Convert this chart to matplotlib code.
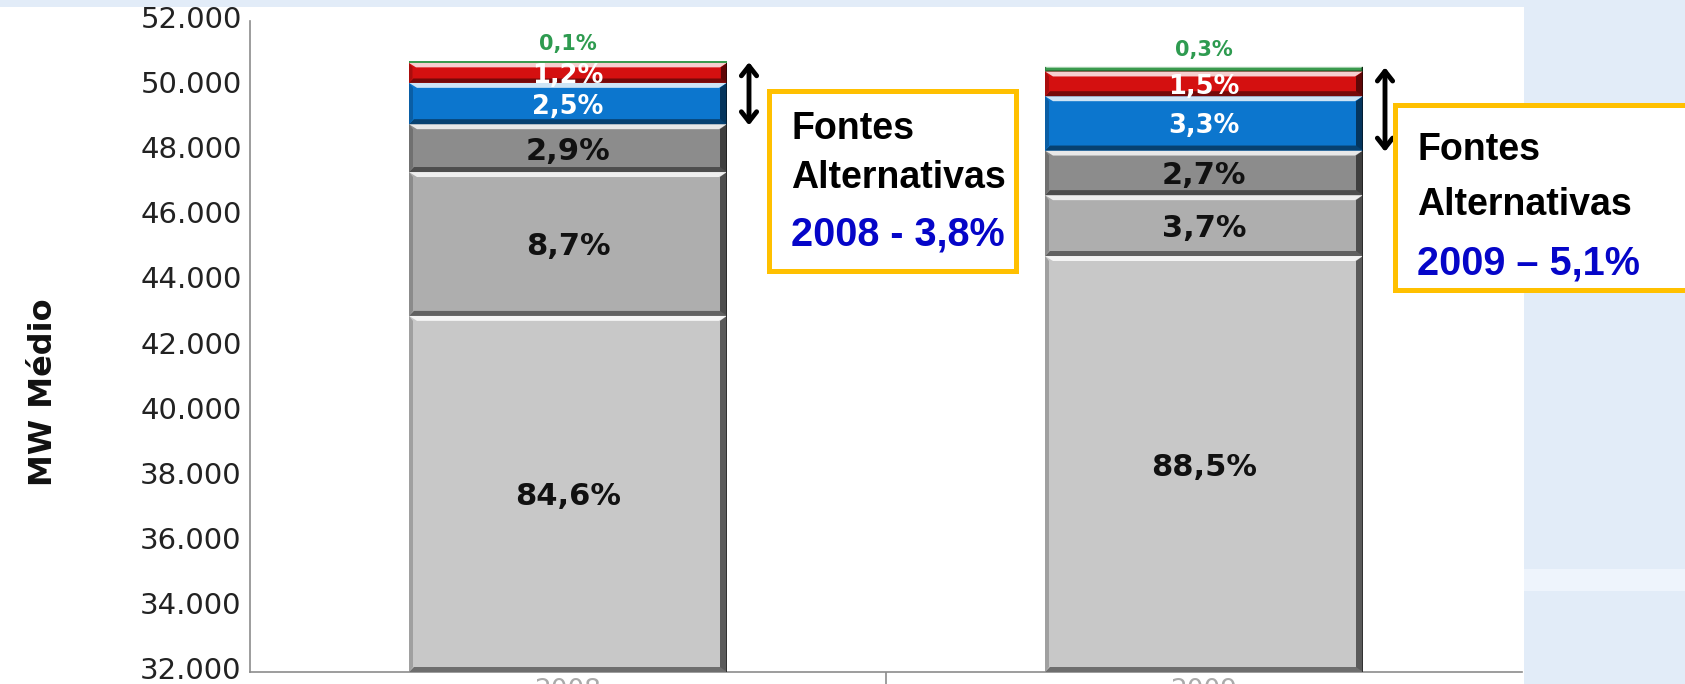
import matplotlib
matplotlib.use('Agg')
import matplotlib.pyplot as plt
import matplotlib.patches as mpatches
from matplotlib.colors import to_rgb
from matplotlib.ticker import FuncFormatter
from matplotlib.transforms import ScaledTranslation
import numpy as np

W, H = 1685, 684

# data (MW médio, bottom segment first)
years = ['2008', '2009']
mw_2008 = [42940, 4420, 1470, 1270, 610, 50]
mw_2009 = [44780, 1870, 1370, 1670, 760, 150]
pct_2008 = ['84,6%', '8,7%', '2,9%', '2,5%', '1,2%', '0,1%']
pct_2009 = ['88,5%', '3,7%', '2,7%', '3,3%', '1,5%', '0,3%']
alt_labels = ['2008 - 3,8%', '2009 \u2013 5,1%']

seg_colors = ['#C8C8C8', '#AEAEAE', '#8C8C8C', '#0C76CE', '#D41010', '#3A9A4E']
txt_colors = ['#111111', '#111111', '#111111', 'white', 'white', '#2E9B50']
txt_sizes = [22, 22, 22, 18.5, 18.5, 15]

C_BOX = '#FFC000'
C_BLUE = '#0505C8'


def fx(px):
    return px / W


def fy(py):
    return 1 - py / H


def mix(c, other, t):
    a, b = np.array(to_rgb(c)), np.array(to_rgb(other))
    return tuple(a * (1 - t) + b * t)


fig = plt.figure(figsize=(W / 100, H / 100), dpi=100)
fig.patch.set_facecolor('#E2ECF8')
# white slide area + light band on the right
fig.add_artist(mpatches.Rectangle((0, 0), fx(1524), fy(7), transform=fig.transFigure,
                                  facecolor='white', edgecolor='none', zorder=0))
fig.add_artist(mpatches.Rectangle((fx(1524), fy(591)), 1, 22 / H, transform=fig.transFigure,
                                  facecolor='#EEF4FC', edgecolor='none', zorder=0))

ax = fig.add_axes([fx(250), 12 / H, (1522 - 250) / W, (672 - 21) / H])
ax.set_facecolor('none')
ax.set_xlim(-0.5, 1.5)
ax.set_ylim(32000, 52000)
dx = 2.0 / 1272
dy = 20000 / 651

x = np.arange(len(years))
bw = 0.5
vals = np.array([mw_2008, mw_2009]).T
pcts = np.array([pct_2008, pct_2009]).T


def bevel(rect, color):
    x0, y0 = rect.get_x(), rect.get_y()
    w, h = rect.get_width(), rect.get_height()
    ymin = ax.get_ylim()[0]
    if y0 < ymin:
        h -= ymin - y0
        y0 = ymin
    hp = h / dy
    if hp < 4:
        return
    e = min(5, hp * 0.22)
    ex, ey = e * dx, e * dy
    dark = mix(color, 'black', 0.45)
    light = mix(color, 'white', 0.8)
    polys = [
        # bottom shadow
        ([(x0, y0), (x0 + w, y0), (x0 + w - ex, y0 + ey), (x0 + ex, y0 + ey)], dark),
        # top highlight
        ([(x0, y0 + h), (x0 + w, y0 + h), (x0 + w - ex * 1.6, y0 + h - ey), (x0 + ex * 1.6, y0 + h - ey)], light),
        # right side
        ([(x0 + w, y0), (x0 + w, y0 + h), (x0 + w - ex * 1.4, y0 + h - ey), (x0 + w - ex * 1.4, y0 + ey)],
         mix(color, 'black', 0.55)),
        # left side
        ([(x0, y0), (x0, y0 + h), (x0 + ex * 0.8, y0 + h - ey), (x0 + ex * 0.8, y0 + ey)],
         mix(color, 'black', 0.2)),
    ]
    for pts, c in polys:
        ax.add_patch(mpatches.Polygon(pts, closed=True, facecolor=c, edgecolor='none', zorder=3))
    ax.add_patch(mpatches.Rectangle((x0 + w - 1.5 * dx, y0), 1.5 * dx, h,
                                    facecolor=mix(color, 'black', 0.75), edgecolor='none', zorder=3))


bottom = np.zeros(len(years))
for i in range(vals.shape[0]):
    bars = ax.bar(x, vals[i], bw, bottom=bottom, color=seg_colors[i], edgecolor='none', zorder=2)
    for j, b in enumerate(bars):
        bevel(b, seg_colors[i])
        if i == vals.shape[0] - 1:
            ty = bottom[j] + vals[i][j] + 17 * dy
        else:
            ty = max(bottom[j], 32000) / 2 + (bottom[j] + vals[i][j]) / 2 - 3 * dy
        ax.text(x[j], ty, pcts[i][j], ha='center', va='center', fontsize=txt_sizes[i],
                fontweight='bold', color=txt_colors[i], zorder=5)
    bottom = bottom + vals[i]

# double arrows spanning the alternative sources
for j in range(len(years)):
    top = bottom[j]
    base = vals[0][j] + vals[1][j] + vals[2][j]
    ax_x = x[j] + bw / 2 + 22 * dx
    ax.annotate('', xy=(ax_x, top + 2 * dy), xytext=(ax_x, base - 4 * dy),
                arrowprops=dict(arrowstyle='<->,head_length=0.7,head_width=0.55',
                                color='black', lw=3.5), zorder=6, annotation_clip=False)

# axes styling
for s in ['top', 'right']:
    ax.spines[s].set_visible(False)
for s in ['left', 'bottom']:
    ax.spines[s].set_color('#8C8C8C')
    ax.spines[s].set_linewidth(1.2)
ax.set_yticks(np.arange(32000, 52001, 2000))
ax.yaxis.set_major_formatter(FuncFormatter(lambda v, p: f"{int(v):,}".replace(',', '.')))
ax.tick_params(axis='y', length=0, pad=6, labelsize=21, labelcolor='#222222')
lift = ScaledTranslation(0, 4 / 100, fig.dpi_scale_trans)
for tick in ax.yaxis.get_major_ticks():
    tick.label1.set_transform(tick.label1.get_transform() + lift)
ax.set_xticks(x)
ax.set_xticklabels(years)
ax.tick_params(axis='x', length=0, pad=4, labelsize=19, labelcolor='#AAAAAA')
ax.set_xticks([0.5], minor=True)
ax.tick_params(axis='x', which='minor', length=10, color='#8C8C8C', width=1.2)

fig.text(fx(43), fy(392), 'MW Médio', rotation=90, ha='center', va='center',
         fontsize=23, fontweight='bold', color='#111111')

# annotation boxes
boxes = [(769, 91, 1016, 271), (1395, 105, 1720, 290)]
offsets = [(48, 97, 155), (55, 110, 169)]
fam = ['Liberation Sans', 'DejaVu Sans']
for (l, t, r, b), lab, off in zip(boxes, alt_labels, offsets):
    fig.add_artist(mpatches.Rectangle((fx(l), fy(b)), (r - l) / W, (b - t) / H,
                                      transform=fig.transFigure, facecolor='white',
                                      edgecolor=C_BOX, linewidth=3.6, zorder=7))
    tx = l + 22
    fig.text(fx(tx), fy(t + off[0]), 'Fontes', fontsize=27, fontweight='bold', family=fam,
             va='baseline', ha='left', color='black', zorder=8)
    fig.text(fx(tx), fy(t + off[1]), 'Alternativas', fontsize=27, fontweight='bold', family=fam,
             va='baseline', ha='left', color='black', zorder=8)
    fig.text(fx(tx), fy(t + off[2]), lab, fontsize=28.5, fontweight='bold', family=fam,
             va='baseline', ha='left', color=C_BLUE, zorder=8)

fig.savefig('out.png', dpi=100)
